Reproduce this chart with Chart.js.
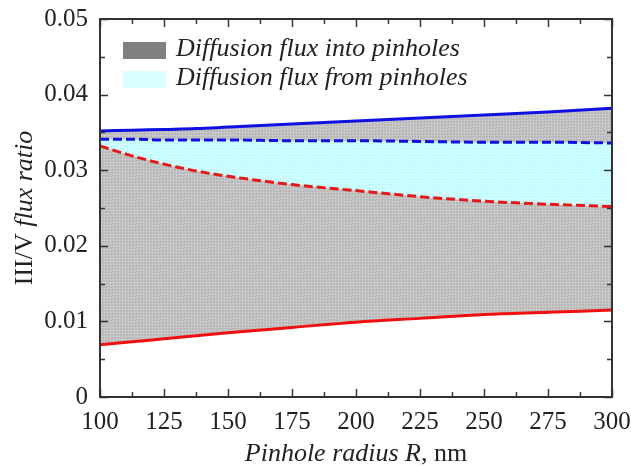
<!DOCTYPE html>
<html>
<head>
<meta charset="utf-8">
<script src="https://cdn.jsdelivr.net/npm/chart.js@4"></script>
<style>
  html, body { margin: 0; padding: 0; background: #fff; }
  #wrap { width: 631px; height: 468px; }
</style>
</head>
<body>
<div id="wrap"><canvas id="fluxChart" width="631" height="468"></canvas></div>
<script>
// 데이터: 핀홀 반경(nm)별 III/V 플럭스 비
const radius = [100, 112.5, 125, 137.5, 150, 175, 200, 225, 250, 275, 300];
const intoLower = [0.0069, 0.0073, 0.0077, 0.0081, 0.0085, 0.0092, 0.0099, 0.0104, 0.0109, 0.0112, 0.0115];
const intoUpper = [0.0352, 0.0353, 0.0354, 0.0355, 0.0357, 0.0361, 0.0365, 0.0369, 0.0373, 0.0377, 0.0382];
const fromLower = [0.0332, 0.0319, 0.0308, 0.0299, 0.0292, 0.0281, 0.0273, 0.0265, 0.0259, 0.0255, 0.0252];
const fromUpper = [0.0341, 0.0341, 0.0340, 0.0340, 0.0340, 0.0339, 0.0339, 0.0338, 0.0337, 0.0337, 0.0336];
const legendLabels = ['Diffusion flux into pinholes', 'Diffusion flux from pinholes'];
const xTitle = ['Pinhole radius R', ', nm'];
const yTitle = ['III/V ', 'flux ratio'];

const pts = arr => arr.map((v, i) => ({ x: radius[i], y: v }));

// 점묘 패턴 채우기
function makePattern(base, dark, light) {
    const c = document.createElement('canvas');
    c.width = 3; c.height = 3;
    const g = c.getContext('2d');
    g.fillStyle = base; g.fillRect(0, 0, 3, 3);
    g.fillStyle = dark; g.fillRect(1, 1, 1, 1); g.fillRect(0, 2, 1, 1);
    g.fillStyle = light; g.fillRect(2, 0, 1, 1);
    return g.createPattern(c, 'repeat');
}
const grayFill = makePattern('#c3c3c3', '#b0b0b0', '#d4d4d4');
const cyanFill = makePattern('#c9ffff', '#bff5f5', '#d6ffff');

const serif = '"Liberation Serif", "Times New Roman", serif';

// 축 테두리, 안쪽 눈금, 제목, 범례
const decor = {
    id: 'decor',
    afterDraw(chart) {
        const { ctx, chartArea: a, scales: { x, y } } = chart;
        ctx.save();
        ctx.strokeStyle = '#333';
        ctx.lineWidth = 2;
        ctx.strokeRect(a.left, a.top, a.right - a.left, a.bottom - a.top);
        ctx.lineWidth = 1.5;
        ctx.beginPath();
        for (let v = 100; v <= 300.01; v += 12.5) {
            const px = Math.round(x.getPixelForValue(v)) + 0.5;
            const len = (v % 25 === 0) ? 8 : 5;
            ctx.moveTo(px, a.bottom); ctx.lineTo(px, a.bottom - len);
            ctx.moveTo(px, a.top); ctx.lineTo(px, a.top + len);
        }
        for (let k = 0; k <= 10; k++) {
            const py = Math.round(y.getPixelForValue(k * 0.005)) + 0.5;
            const len = (k % 2 === 0) ? 8 : 5;
            ctx.moveTo(a.left, py); ctx.lineTo(a.left + len, py);
            ctx.moveTo(a.right, py); ctx.lineTo(a.right - len, py);
        }
        ctx.stroke();

        // x축 제목
        ctx.fillStyle = '#222';
        ctx.textBaseline = 'alphabetic';
        const fi = 'italic 26px ' + serif, fn = '26px ' + serif;
        ctx.font = fi; const w1 = ctx.measureText(xTitle[0]).width;
        ctx.font = fn; const w2 = ctx.measureText(xTitle[1]).width;
        let sx = (a.left + a.right) / 2 - (w1 + w2) / 2;
        ctx.font = fi; ctx.fillText(xTitle[0], sx, 461);
        ctx.font = fn; ctx.fillText(xTitle[1], sx + w1, 461);

        // y축 제목 (회전)
        ctx.save();
        ctx.translate(32, 208);
        ctx.rotate(-Math.PI / 2);
        ctx.font = fn; const h1 = ctx.measureText(yTitle[0]).width;
        ctx.font = fi; const h2 = ctx.measureText(yTitle[1]).width;
        sx = -(h1 + h2) / 2;
        ctx.font = fn; ctx.fillText(yTitle[0], sx, 0);
        ctx.font = fi; ctx.fillText(yTitle[1], sx + h1, 0);
        ctx.restore();

        // 범례
        ctx.fillStyle = '#808080';
        ctx.fillRect(123, 42, 43, 17);
        ctx.fillStyle = '#d9ffff';
        ctx.fillRect(123, 71, 43, 17);
        ctx.fillStyle = '#222';
        ctx.font = fi;
        ctx.fillText(legendLabels[0], 176, 56);
        ctx.fillText(legendLabels[1], 176, 85);
        ctx.restore();
    }
};

new Chart(document.getElementById('fluxChart').getContext('2d'), {
    type: 'line',
    data: {
        datasets: [
            { data: pts(fromLower), borderColor: '#e81818', borderWidth: 3, borderDash: [9, 4], fill: false },
            { data: pts(fromUpper), borderColor: '#1010e0', borderWidth: 3, borderDash: [9, 4], fill: '-1', backgroundColor: cyanFill },
            { data: pts(intoLower), borderColor: '#f01010', borderWidth: 3, fill: false },
            { data: pts(intoUpper), borderColor: '#1010e0', borderWidth: 3, fill: '-1', backgroundColor: grayFill }
        ]
    },
    options: {
        responsive: false,
        animation: false,
        layout: { padding: { top: 19, right: 19, left: 0, bottom: 0 } },
        elements: { point: { radius: 0 }, line: { cubicInterpolationMode: 'monotone' } },
        plugins: { legend: { display: false }, tooltip: { enabled: false } },
        scales: {
            x: {
                type: 'linear', min: 100, max: 300,
                grid: { display: false, drawTicks: false }, border: { display: false },
                ticks: { stepSize: 25, color: '#222', padding: 10, maxRotation: 0,
                         font: { family: serif, size: 25 } },
                afterFit: s => { s.height = 71; s.paddingLeft = 0; s.paddingRight = 0; }
            },
            y: {
                min: 0, max: 0.05,
                grid: { display: false, drawTicks: false }, border: { display: false },
                ticks: { stepSize: 0.01, color: '#222', padding: 12,
                         font: { family: serif, size: 25 },
                         callback: v => (v === 0 ? '0' : v.toFixed(2)) },
                afterFit: s => { s.width = 100; s.paddingTop = 0; s.paddingBottom = 0; }
            }
        }
    },
    plugins: [decor]
});
</script>
</body>
</html>
